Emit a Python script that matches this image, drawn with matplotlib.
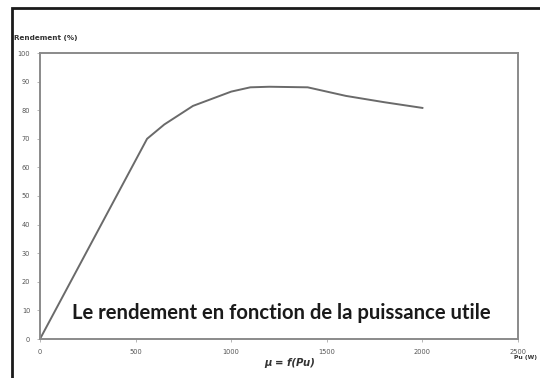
import matplotlib
matplotlib.use("Agg")
import matplotlib.pyplot as plt
from matplotlib.patches import Rectangle

pu = [0, 560, 650, 800, 1000, 1100, 1200, 1400, 1600, 1800, 2000]
rendement = [0, 70, 75, 81.5, 86.5, 88, 88.2, 88, 85, 82.8, 80.8]
xticks = [0, 500, 1000, 1500, 2000, 2500]
yticks = [0, 10, 20, 30, 40, 50, 60, 70, 80, 90, 100]

W, H = 540, 378
fig = plt.figure(figsize=(W / 100, H / 100), dpi=100)
fig.patch.set_facecolor("white")

ax = fig.add_axes([40 / W, 1 - 339 / H, 478 / W, 286 / H])
ax.plot(pu, rendement, color="#6a6a6a", lw=1.4)
ax.set_xlim(0, 2500)
ax.set_ylim(0, 100)
ax.set_xticks(xticks)
ax.set_yticks(yticks)
ax.tick_params(labelsize=4.8, labelcolor="#555555", color="#aaaaaa", length=2, width=0.6, pad=5)
for s in ax.spines.values():
    s.set_color("#8a8a8a")
    s.set_linewidth(1.4)

# outer black frame (clipped on right and bottom)
fig.patches.append(Rectangle((12 / W, -0.1), 1.2, 1 - 8 / H + 0.1, transform=fig.transFigure,
                             fill=False, edgecolor="#1a1a1a", lw=2.0, clip_on=False))

fig.text(14 / W, 1 - 38 / H, "Rendement (%)", fontsize=5.2, fontweight="bold", color="#333333",
         va="center", ha="left")
fig.text(290 / W, 1 - 363 / H, "μ = f(Pu)", fontsize=7.3, fontweight="bold", style="italic",
         color="#333333", va="center", ha="center")
fig.text(537 / W, 1 - 357 / H, "Pu (W)", fontsize=4.3, fontweight="bold", color="#333333",
         va="center", ha="right")
fig.text(281 / W, 1 - 313 / H, "Le rendement en fonction de la puissance utile", fontsize=14.6,
         fontweight="bold", family="Lato", color="#1a1a1a", va="center", ha="center")

fig.savefig("out.png", dpi=100)
